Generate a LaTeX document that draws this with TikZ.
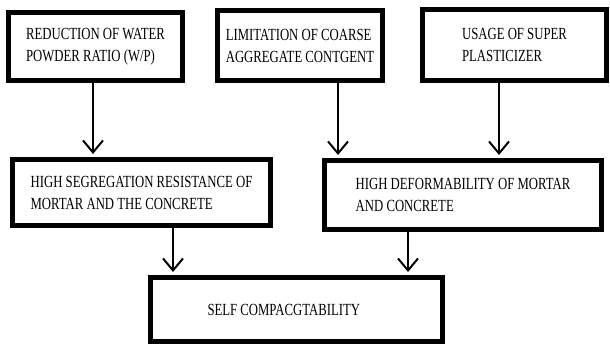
\documentclass[tikz,border=0pt]{standalone}
\usepackage{fontspec}
\setmainfont{Liberation Serif}[FakeStretch=0.75]
\usetikzlibrary{arrows.meta}
\begin{document}
\begin{tikzpicture}[x=1pt,y=-1pt,
        box/.style={draw,line width=5pt,align=left,inner sep=0pt,font=\fontsize{17}{22}\selectfont},
        arr/.style={line width=2pt,shorten >=3pt,-{Straight Barb[width=20pt,length=12pt]}}]
    \useasboundingbox (0,0) rectangle (610,344);
    \node at (95.5,46.5) [box,minimum width=174pt,minimum height=68pt] (water) {REDUCTION OF WATER\\POWDER RATIO (W/P)};
    \node at (300,45.5) [box,minimum width=165pt,minimum height=70pt] (coarse) {LIMITATION OF COARSE\\AGGREGATE CONTGENT};
    \node at (514.5,45) [box,minimum width=184pt,minimum height=71pt] (plast) {USAGE OF SUPER\\PLASTICIZER};
    \node at (141.5,192.5) [box,minimum width=258pt,minimum height=66pt] (segr) {HIGH SEGREGATION RESISTANCE OF\\MORTAR AND THE CONCRETE};
    \node at (463,195) [box,minimum width=277pt,minimum height=69pt] (deform) {HIGH DEFORMABILITY OF MORTAR\\AND CONCRETE};
    \node at (296.5,309.5) [box,minimum width=292pt,minimum height=64pt,text width=178pt,inner xsep=57pt,align=flush left] (self) {SELF COMPACGTABILITY};
    \coordinate (c1) at (93,0);
    \coordinate (c2) at (338,0);
    \coordinate (c3) at (499,0);
    \coordinate (c4) at (173,0);
    \coordinate (c5) at (408,0);
    \draw[arr] (water.south -| c1) -- (segr.north -| c1);
    \draw[arr] (coarse.south -| c2) -- (deform.north -| c2);
    \draw[arr] (plast.south -| c3) -- (deform.north -| c3);
    \draw[arr] (segr.south -| c4) -- (self.north -| c4);
    \draw[arr] (deform.south -| c5) -- (self.north -| c5);
\end{tikzpicture}
\end{document}
